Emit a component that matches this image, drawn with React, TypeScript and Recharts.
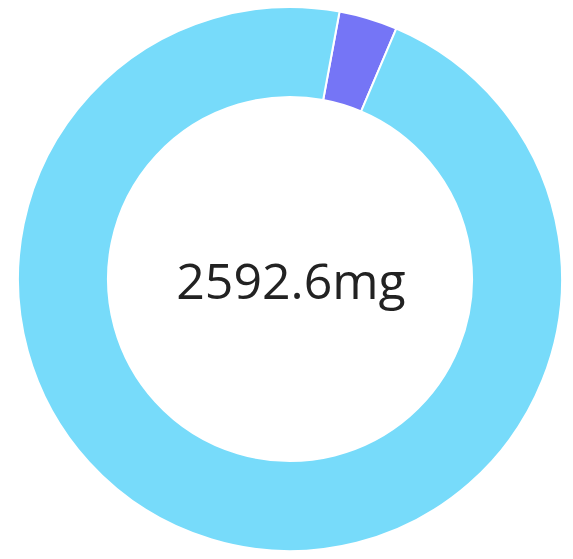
import { PieChart, Pie, Cell, Label } from 'recharts';

const names = ['Other', 'Main'];
const values = [90, 2502.6];
const colors = ['#7575f6', '#77dbfa'];
const centerLabel = '2592.6mg';

const data = names.map((name, i) => ({ name, value: values[i] }));

const CX = 290;
const CY = 279;

export default function App() {
  return (
    <div style={{ position: 'absolute', top: 0, left: 0, background: '#fff' }}>
      <PieChart width={573} height={559} margin={{ top: 0, right: 0, bottom: 0, left: 0 }}>
        <Pie
          data={data}
          dataKey="value"
          nameKey="name"
          cx={CX}
          cy={CY}
          innerRadius={182}
          outerRadius={272}
          startAngle={79.5}
          endAngle={-280.5}
          stroke="#ffffff"
          strokeWidth={2}
          isAnimationActive={false}
        >
          {data.map((d, i) => (
            <Cell key={d.name} fill={colors[i]} />
          ))}
          <Label
            position="center"
            content={() => (
              <text
                x={CX + 1}
                y={CY + 20}
                textAnchor="middle"
                fontFamily="'Open Sans', sans-serif"
                fontSize={50}
                fill="#222"
              >
                {centerLabel}
              </text>
            )}
          />
        </Pie>
      </PieChart>
    </div>
  );
}
